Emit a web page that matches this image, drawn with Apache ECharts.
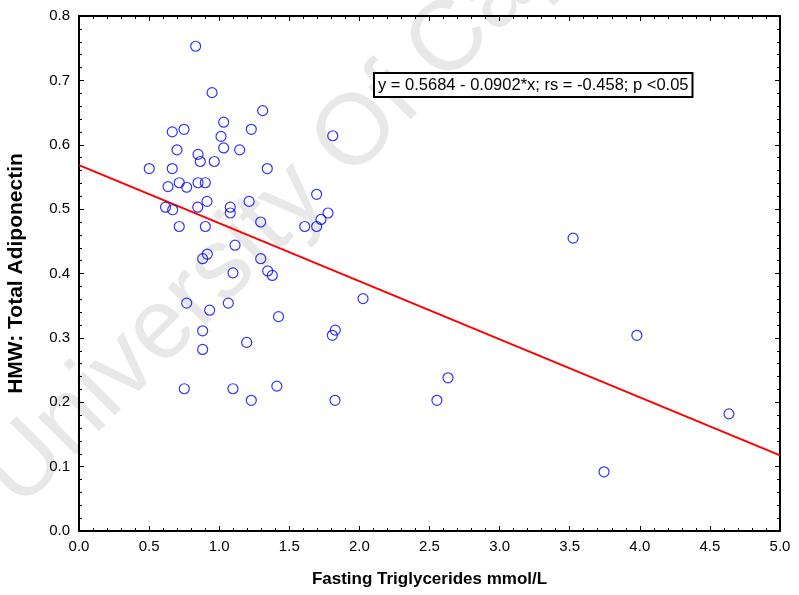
<!DOCTYPE html>
<html><head><meta charset="utf-8">
<script src="https://cdn.jsdelivr.net/npm/echarts@6/dist/echarts.min.js"></script>
<style>html,body{margin:0;padding:0;background:#fff}#c{width:799px;height:595px}</style>
</head><body><div id="c"></div>
<script>
const xVals = [0.832,0.949,1.310,1.032,0.665,0.749,1.229,1.013,1.810,0.699,1.032,1.146,0.849,0.865,0.965,0.501,0.665,1.343,0.635,0.715,0.768,0.849,0.901,0.913,1.213,0.617,0.668,0.847,1.079,1.079,0.715,0.901,1.296,1.113,0.882,0.915,1.296,1.098,1.346,1.379,0.768,0.932,1.065,1.423,0.882,0.882,1.196,0.751,1.098,1.229,1.411,1.695,1.776,1.726,1.695,1.610,2.026,1.828,1.807,1.826,3.524,2.632,2.553,3.979,3.745,4.636];
const yVals = [0.753,0.681,0.653,0.635,0.620,0.624,0.624,0.613,0.614,0.592,0.595,0.592,0.585,0.574,0.574,0.563,0.563,0.563,0.535,0.541,0.534,0.541,0.541,0.512,0.512,0.503,0.499,0.503,0.503,0.494,0.473,0.473,0.480,0.444,0.423,0.430,0.423,0.401,0.404,0.397,0.354,0.343,0.354,0.333,0.311,0.282,0.293,0.221,0.221,0.203,0.225,0.523,0.494,0.484,0.473,0.473,0.361,0.312,0.304,0.203,0.455,0.238,0.203,0.304,0.092,0.182];
const intercept = 0.5684, slope = -0.0902;
const lineX = [0, 5];
const eqText = 'y = 0.5684 - 0.0902*x; rs = -0.458; p <0.05';
const xTitle = 'Fasting Triglycerides mmol/L';
const yTitle = 'HMW: Total Adiponectin';
const watermark = 'University Of Cape Town';

const pts = xVals.map((x,i)=>[x,yVals[i]]);
const linePts = lineX.map(x=>[x, intercept + slope*x]);
const font = 'Liberation Sans, Arial, sans-serif';
const axisCommon = {
  axisLine:{show:true,onZero:false,lineStyle:{color:'#000',width:2}},
  axisTick:{show:true,inside:true,length:5,lineStyle:{color:'#000',width:1}},
  minorTick:{show:true,splitNumber:5,length:3,lineStyle:{color:'#000',width:1}},
  splitLine:{show:false}
};
const chart = echarts.init(document.getElementById('c'));
chart.setOption({
  animation:false,
  backgroundColor:'#fff',
  grid:{left:79,right:19,top:16,bottom:64,containLabel:false,outerBoundsMode:'none'},
  graphic:[
    {type:'text',z:-10,x:0,y:491,rotation:Math.PI*45/180,silent:true,
     style:{text:watermark,font:'100px '+font,fill:'#e8e8e8',textVerticalAlign:'middle'}},
    {type:'text',z:100,x:375,y:74,
     style:{text:eqText,font:'16.5px '+font,fill:'#000',backgroundColor:'#fff',borderColor:'#000',borderWidth:2,padding:[3,3,2,3]}}
  ],
  xAxis:[
    Object.assign({type:'value',min:0,max:5,interval:0.5,position:'bottom',
      name:xTitle,nameLocation:'middle',nameGap:40,
      nameTextStyle:{fontFamily:font,fontSize:17,fontWeight:'bold',color:'#000'},
      axisLabel:{fontFamily:font,fontSize:15,color:'#000',margin:8,formatter:v=>v.toFixed(1)}},axisCommon),
    Object.assign({type:'value',min:0,max:5,interval:0.5,position:'top',axisLabel:{show:false}},axisCommon)
  ],
  yAxis:[
    Object.assign({type:'value',min:0,max:0.8,interval:0.1,position:'left',
      name:yTitle,nameLocation:'middle',nameGap:52,
      nameTextStyle:{fontFamily:font,fontSize:21,fontWeight:'bold',color:'#000'},
      axisLabel:{fontFamily:font,fontSize:15,color:'#000',margin:9,formatter:v=>v.toFixed(1)}},axisCommon),
    Object.assign({type:'value',min:0,max:0.8,interval:0.1,position:'right',axisLabel:{show:false}},axisCommon)
  ],
  series:[
    {type:'line',data:linePts,symbol:'none',lineStyle:{color:'#ff0000',width:2},z:3},
    {type:'scatter',data:pts,symbol:'circle',symbolSize:10,
     itemStyle:{color:'rgba(255,255,255,0)',borderColor:'#0000ff',borderWidth:1.2},z:4}
  ]
});
</script></body></html>
